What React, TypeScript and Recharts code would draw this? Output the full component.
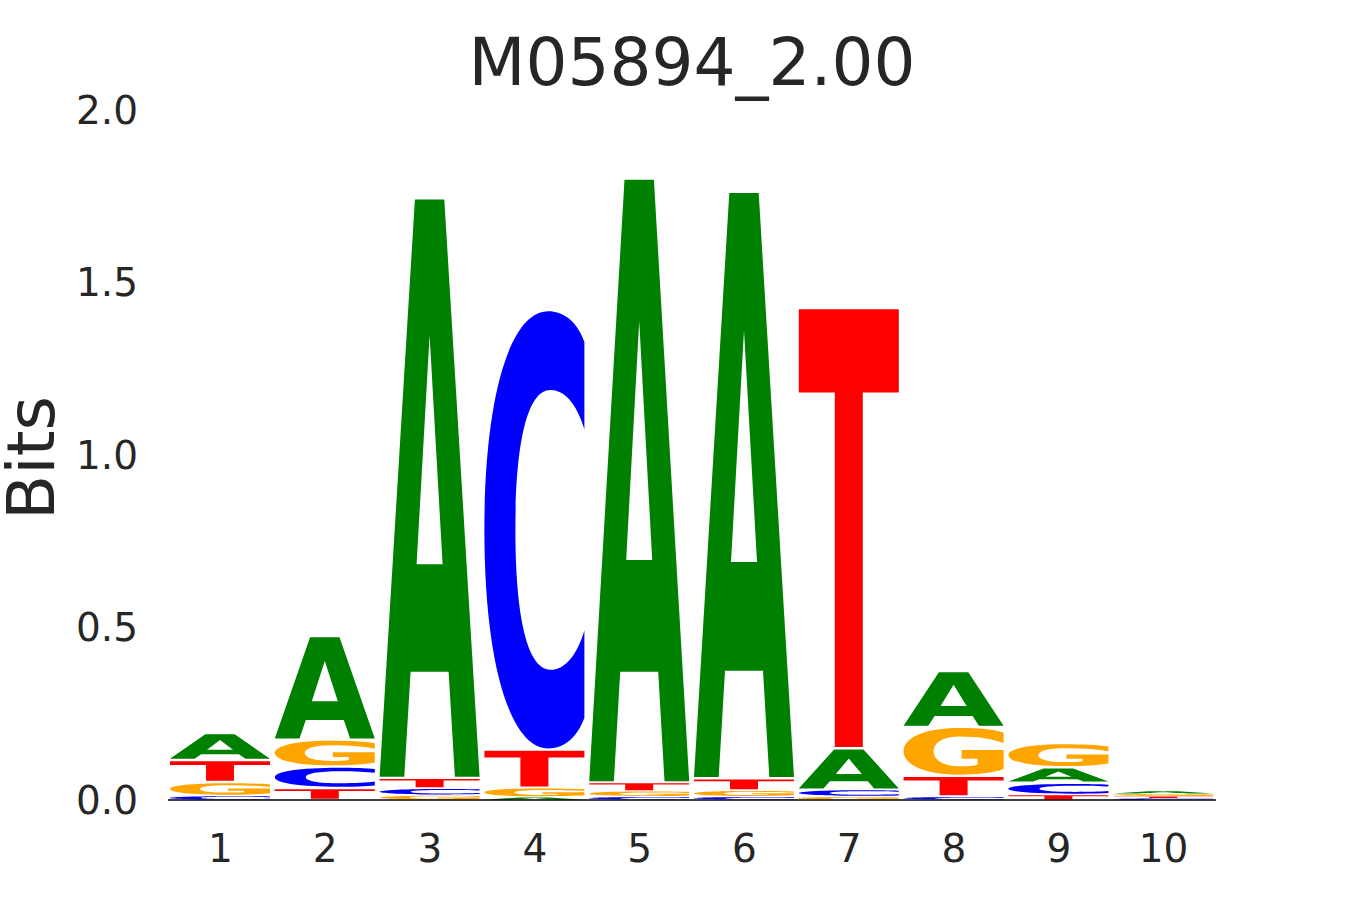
import React from "react";
import { BarChart, Bar, XAxis, YAxis } from "recharts";

// information content (bits) per letter at each motif position
const positions = ["1", "2", "3", "4", "5", "6", "7", "8", "9", "10"];
const bitsA = [0.078, 0.3, 1.68, 0.008, 1.75, 1.7, 0.12, 0.162, 0.045, 0.008];
const bitsC = [0.012, 0.062, 0.02, 1.274, 0.01, 0.01, 0.02, 0.01, 0.035, 0.005];
const bitsG = [0.04, 0.078, 0.014, 0.028, 0.016, 0.018, 0.01, 0.142, 0.07, 0.007];
const bitsT = [0.064, 0.035, 0.03, 0.11, 0.025, 0.035, 1.276, 0.06, 0.015, 0.006];
const yTicks = [0, 0.5, 1, 1.5, 2];

const colors: Record<string, string> = {
  A: "#008000",
  C: "#0000ff",
  G: "#ffa500",
  T: "#ff0000",
};

// glyph outlines in a unit box (x right, y down)
const glyphs: Record<string, string> = {
  A: "M0.353 0 L0.647 0 L1 1 L0.753 1 L0.69 0.818 L0.31 0.818 L0.247 1 L0 1 Z M0.5 0.235 L0.63 0.632 L0.37 0.632 Z",
  C: "M1 0.07 C0.92 0.02 0.78 0 0.64 0 C0.25 0 0 0.2 0 0.5 C0 0.8 0.25 1 0.64 1 C0.78 1 0.92 0.98 1 0.93 L1 0.73 C0.92 0.79 0.8 0.82 0.66 0.82 C0.43 0.82 0.31 0.7 0.31 0.5 C0.31 0.3 0.43 0.18 0.66 0.18 C0.8 0.18 0.92 0.21 1 0.27 Z",
  G: "M1 0.1 C0.9 0.03 0.75 0 0.55 0 C0.22 0 0 0.2 0 0.5 C0 0.8 0.22 1 0.55 1 C0.75 1 0.92 0.95 1 0.88 L1 0.47 L0.58 0.47 L0.58 0.66 L0.74 0.66 L0.74 0.78 C0.7 0.81 0.63 0.82 0.57 0.82 C0.4 0.82 0.3 0.7 0.3 0.5 C0.3 0.3 0.4 0.18 0.57 0.18 C0.75 0.18 0.9 0.24 1 0.32 Z",
  T: "M0 0 L1 0 L1 0.19 L0.64 0.19 L0.64 1 L0.36 1 L0.36 0.19 L0 0.19 Z",
};

const letters = ["A", "C", "G", "T"];
const bits: Record<string, number[]> = { A: bitsA, C: bitsC, G: bitsG, T: bitsT };

// each column stacked smallest at the bottom, largest on top
const data = positions.map((pos, i) => {
  const sorted = letters
    .map((l) => ({ l, v: bits[l][i] }))
    .sort((a, b) => a.v - b.v);
  const row: any = { pos };
  sorted.forEach((s, k) => {
    row["h" + k] = s.v;
    row["l" + k] = s.l;
  });
  return row;
});

const Glyph = (props: any) => {
  const { x, y, width, height, letter } = props;
  if (!letter || height <= 0) return null;
  const pad = Math.min(1.2, height * 0.1);
  const h = height - 2 * pad;
  return (
    <path
      d={glyphs[letter]}
      fill={colors[letter]}
      fillRule="evenodd"
      transform={`translate(${x},${y + pad}) scale(${width},${h})`}
    />
  );
};

const font = "'DejaVu Sans', sans-serif";
const ink = "#262626";

export default function App() {
  return (
    <div style={{ position: "absolute", left: 0, top: 0, width: 1350, height: 900, background: "#fff", fontFamily: font }}>
      <BarChart
        width={1350}
        height={900}
        data={data}
        margin={{ top: 110, right: 134, left: 0, bottom: 40 }}
        barSize={100}
      >
        <XAxis
          dataKey="pos"
          height={60}
          tickLine={false}
          tickSize={0}
          tickMargin={34}
          axisLine={{ stroke: "#000", strokeWidth: 1.5 }}
          tick={{ fontSize: 39, fill: ink, fontFamily: font }}
        />
        <YAxis
          type="number"
          domain={[0, 2]}
          ticks={yTicks}
          width={168}
          axisLine={false}
          tickLine={false}
          tickSize={0}
          tickMargin={30}
          tickFormatter={(v: number) => v.toFixed(1)}
          tick={{ fontSize: 39, fill: ink, fontFamily: font }}
        />
        {[0, 1, 2, 3].map((k) => (
          <Bar
            key={k}
            dataKey={"h" + k}
            stackId="logo"
            isAnimationActive={false}
            shape={(p: any) => <Glyph {...p} letter={p.payload["l" + k]} />}
          />
        ))}
      </BarChart>
      <svg width={1350} height={900} style={{ position: "absolute", left: 0, top: 0, pointerEvents: "none" }}>
        <text x={692} y={85} textAnchor="middle" fontSize={66} fill={ink} fontFamily={font}>
          M05894_2.00
        </text>
        <text
          x={0}
          y={0}
          transform="translate(54,458) rotate(-90)"
          textAnchor="middle"
          fontSize={66}
          fill={ink}
          fontFamily={font}
        >
          Bits
        </text>
      </svg>
    </div>
  );
}
